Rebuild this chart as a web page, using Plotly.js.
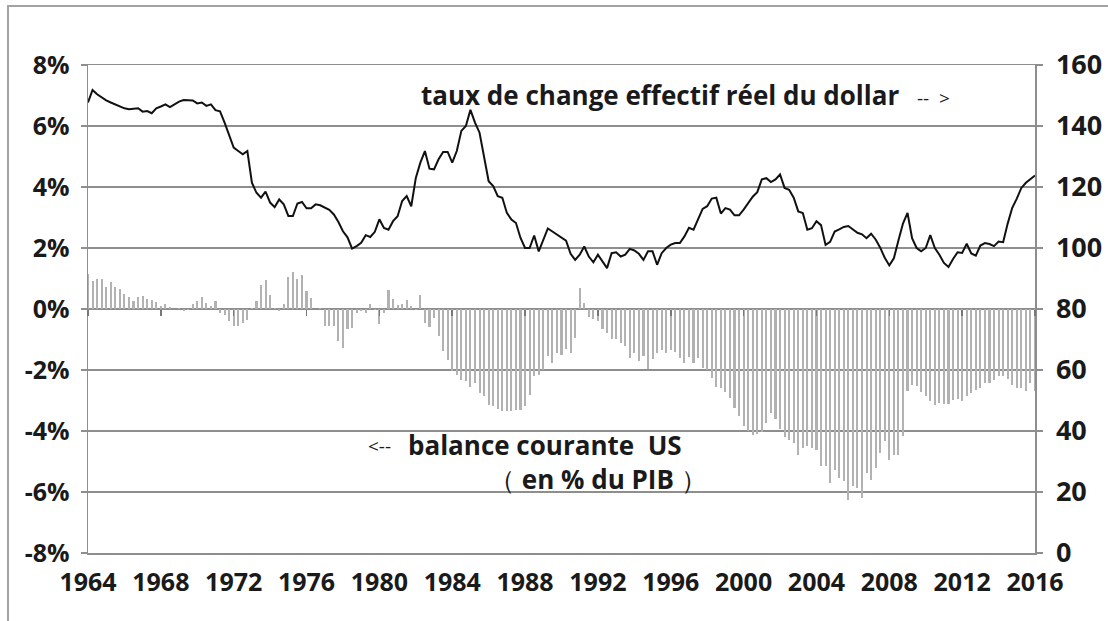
<!DOCTYPE html>
<html>
<head>
<meta charset="utf-8">
<script src="https://cdn.plot.ly/plotly-3.0.1.min.js"></script>
<style>
html,body{margin:0;padding:0;background:#fff;overflow:hidden;}
#chart{width:1108px;height:621px;}
#frame{position:absolute;left:7px;top:5px;width:1300px;height:800px;border-left:2px solid #a3a3a3;border-top:2px solid #a3a3a3;pointer-events:none;}
</style>
</head>
<body>
<div id="chart"></div>
<div id="frame"></div>
<script>
// Quarterly data, 1964Q1 .. 2016Q1 (one row per year)
const startYear = 1964;

// US current account balance, % of GDP (left axis)
const currentAccount = [
  1.15, 0.92, 1.0, 0.97,
  0.71, 0.87, 0.71, 0.67,
  0.50, 0.40, 0.26, 0.39,
  0.43, 0.33, 0.28, 0.24,
  0.09, 0.16, 0.08, 0.0,
  0.04, -0.07, -0.03, 0.15,
  0.26, 0.38, 0.21, 0.10,
  0.27, -0.14, -0.2, -0.38,
  -0.55, -0.55, -0.45, -0.36,
  0.04, 0.26, 0.79, 0.94,
  0.46, 0.04, -0.07, 0.15,
  1.05, 1.22, 0.98, 1.1,
  0.59, 0.37, -0.01, 0.03,
  -0.56, -0.57, -0.55, -1.06,
  -1.28, -0.66, -0.62, -0.12,
  -0.08, -0.12, 0.16, -0.02,
  -0.5, -0.13, 0.61, 0.33,
  0.14, 0.15, 0.28, 0.09,
  -0.02, 0.47, -0.46, -0.6,
  -0.3, -0.87, -1.39, -1.66,
  -2.04, -2.15, -2.32, -2.37,
  -2.57, -2.41, -2.75, -2.86,
  -3.14, -3.19, -3.27, -3.36,
  -3.34, -3.36, -3.32, -3.30,
  -3.19, -2.81, -2.21, -2.15,
  -1.99, -1.55, -1.77, -1.45,
  -1.5, -1.3, -1.45, -0.96,
  0.68, 0.19, -0.25, -0.33,
  -0.38, -0.66, -0.8, -0.97,
  -0.97, -1.12, -1.22, -1.61,
  -1.45, -1.7, -1.54, -1.98,
  -1.64, -1.45, -1.34, -1.45,
  -1.34, -1.4, -1.59, -1.76,
  -1.56, -1.78, -1.62, -1.92,
  -1.99, -2.27, -2.55, -2.6,
  -2.73, -2.92, -3.25, -3.5,
  -3.85, -4.0, -4.12, -4.1,
  -4.04, -3.75, -3.4, -3.6,
  -3.95, -4.2, -4.3, -4.4,
  -4.8, -4.56, -4.5, -4.56,
  -4.61, -5.16, -5.16, -5.7,
  -5.27, -5.54, -5.65, -6.25,
  -5.81, -5.87, -6.2, -5.38,
  -5.6, -5.21, -4.72, -4.34,
  -4.94, -4.78, -4.78, -4.17,
  -2.7, -2.48, -2.54, -2.73,
  -2.86, -3.03, -3.14, -3.08,
  -3.1, -3.1, -2.97, -2.95,
  -3.03, -2.86, -2.75, -2.64,
  -2.59, -2.43, -2.43, -2.32,
  -2.21, -2.21, -2.3, -2.48,
  -2.59, -2.59, -2.7, -2.43,
  -2.7
];

// Real effective exchange rate of the dollar (right axis)
const dollarREER = [
  147.7, 151.8, 150.4, 149.3,
  148.4, 147.7, 147.0, 146.4,
  145.8, 145.5, 145.7, 145.8,
  144.7, 144.9, 144.2, 145.8,
  146.4, 147.1, 146.2, 147.1,
  148.0, 148.5, 148.5, 148.4,
  147.4, 147.7, 146.6, 147.1,
  145.2, 144.8, 141.1, 137.3,
  132.9, 131.8, 130.7, 131.8,
  121.4, 118.1, 116.5, 118.5,
  114.9, 113.4, 115.9, 114.3,
  110.5, 110.5, 114.6, 115.1,
  113.0, 113.0, 114.3, 114.0,
  113.2, 112.5, 111.0, 108.5,
  105.5, 103.5, 99.8, 100.6,
  101.7, 104.2, 103.6, 105.3,
  109.4, 106.6, 106.0, 108.8,
  110.4, 115.4, 117.0, 113.7,
  123.0, 128.0, 131.8, 126.0,
  125.8, 129.1, 131.5, 131.5,
  128.0, 131.8, 138.4, 140.0,
  145.3, 141.1, 137.8, 129.6,
  121.9, 120.3, 117.0, 116.5,
  111.5, 109.3, 108.2, 103.3,
  100.0, 100.0, 104.1, 98.9,
  102.7, 106.4, 105.4, 104.4,
  103.6, 102.4, 98.1, 96.1,
  97.8, 100.5, 97.2, 95.3,
  97.8, 95.6, 93.4, 98.3,
  98.6, 97.2, 97.8, 99.7,
  99.2, 98.1, 96.1, 98.9,
  98.9, 94.5, 98.3, 100.0,
  101.1, 101.6, 101.6, 103.8,
  106.6, 106.0, 109.3, 112.8,
  113.7, 116.2, 116.5, 111.3,
  113.1, 112.6, 110.7, 110.7,
  112.6, 114.8, 116.8, 118.3,
  122.5, 122.9, 121.6, 122.5,
  124.1, 119.7, 119.1, 116.5,
  112.0, 111.5, 106.0, 106.5,
  108.8, 107.5, 101.0, 102.0,
  105.4, 106.1, 106.9, 107.2,
  106.1, 105.0, 104.5, 103.2,
  104.7, 102.8, 100.1, 96.8,
  94.3, 96.6, 102.5, 108.0,
  111.5, 103.2, 100.0, 98.9,
  100.0, 104.2, 100.0, 97.8,
  95.1, 93.8, 96.4, 98.6,
  98.4, 101.4, 98.2, 97.5,
  100.8, 101.6, 101.3, 100.6,
  102.1, 101.9, 108.0, 113.2,
  116.2, 119.7, 121.4, 122.5,
  123.8
];

const yearTicks = [1964, 1968, 1972, 1976, 1980, 1984, 1988, 1992, 1996, 2000, 2004, 2008, 2012, 2016];
const leftTicks = [-8, -6, -4, -2, 0, 2, 4, 6, 8];
const leftTickText = ['-8%', '-6%', '-4%', '-2%', '0%', '2%', '4%', '6%', '8%'];
const rightTicks = [0, 20, 40, 60, 80, 100, 120, 140, 160];

const quarters = currentAccount.map((_, i) => startYear + i / 4);

const FONT = 'Open Sans, Noto Sans, sans-serif';
const GRID = '#8e8e8e';
const INK = '#1a1a1a';

const traces = [
  {
    type: 'bar', x: quarters, y: currentAccount, xaxis: 'x', yaxis: 'y',
    width: 0.115, marker: {color: '#b2b2b2', line: {width: 0}},
    hoverinfo: 'skip'
  },
  {
    type: 'scatter', mode: 'lines', x: quarters, y: dollarREER, xaxis: 'x2', yaxis: 'y2',
    line: {color: '#111', width: 2}, hoverinfo: 'skip'
  }
];

const indent = '&nbsp;'.repeat(12);

const layout = {
  width: 1108, height: 621,
  margin: {l: 88, r: 73, t: 65, b: 68},
  paper_bgcolor: '#fff', plot_bgcolor: '#fff',
  showlegend: false,
  bargap: 0,
  xaxis: {
    range: [1964, 2016], tickvals: yearTicks, ticktext: yearTicks.map(String),
    showgrid: false, zeroline: false, showline: true, mirror: true,
    linecolor: GRID, linewidth: 1.5, ticks: '',
    tickfont: {family: FONT, size: 25, color: INK, weight: 700},
    ticklabelstandoff: 6, fixedrange: true
  },
  xaxis2: {
    overlaying: 'x', anchor: 'free', position: 0.5,
    range: [1964, 2016], tickvals: yearTicks,
    showticklabels: false, showgrid: false, zeroline: false, showline: false,
    ticks: 'outside', ticklen: 6, tickwidth: 1.5, tickcolor: '#777', fixedrange: true
  },
  yaxis: {
    range: [-8, 8], tickvals: leftTicks, ticktext: leftTickText,
    showgrid: true, gridcolor: GRID, gridwidth: 1.5, zeroline: false,
    showline: true, linecolor: GRID, linewidth: 1.5,
    ticks: 'outside', ticklen: 6, tickwidth: 1.5, tickcolor: GRID,
    tickfont: {family: FONT, size: 25, color: INK, weight: 700},
    ticklabelstandoff: 6, fixedrange: true
  },
  yaxis2: {
    range: [0, 160], tickvals: rightTicks, ticktext: rightTicks.map(String),
    overlaying: 'y', side: 'right', anchor: 'x',
    showgrid: false, zeroline: false,
    showline: true, linecolor: GRID, linewidth: 1.5,
    ticks: 'outside', ticklen: 6, tickwidth: 1.5, tickcolor: GRID,
    tickfont: {family: FONT, size: 27, color: INK, weight: 700},
    ticklabelstandoff: 8, fixedrange: true
  },
  annotations: [
    {xref: 'paper', yref: 'paper', x: 0.350, y: 0.938, xanchor: 'left', yanchor: 'middle',
     text: 'taux de change effectif réel du dollar', showarrow: false,
     font: {family: FONT, size: 26, color: INK, weight: 700}},
    {xref: 'paper', yref: 'paper', x: 0.873, y: 0.932, xanchor: 'left', yanchor: 'middle',
     text: '--  &gt;', showarrow: false,
     font: {family: FONT, size: 19, color: INK}},
    {xref: 'paper', yref: 'paper', x: 0.294, y: 0.219, xanchor: 'left', yanchor: 'middle',
     text: '&lt;--', showarrow: false,
     font: {family: FONT, size: 19, color: INK}},
    {xref: 'paper', yref: 'paper', x: 0.336, y: 0.186, xanchor: 'left', yanchor: 'middle', align: 'left',
     text: 'balance courante  US<br>' + indent +
           '<span style="font-weight:400">（</span> en % du PIB <span style="font-weight:400">）</span>',
     showarrow: false,
     font: {family: FONT, size: 26, color: INK, weight: 700}}
  ]
};

Plotly.newPlot('chart', traces, layout, {displayModeBar: false, staticPlot: true});
</script>
</body>
</html>
